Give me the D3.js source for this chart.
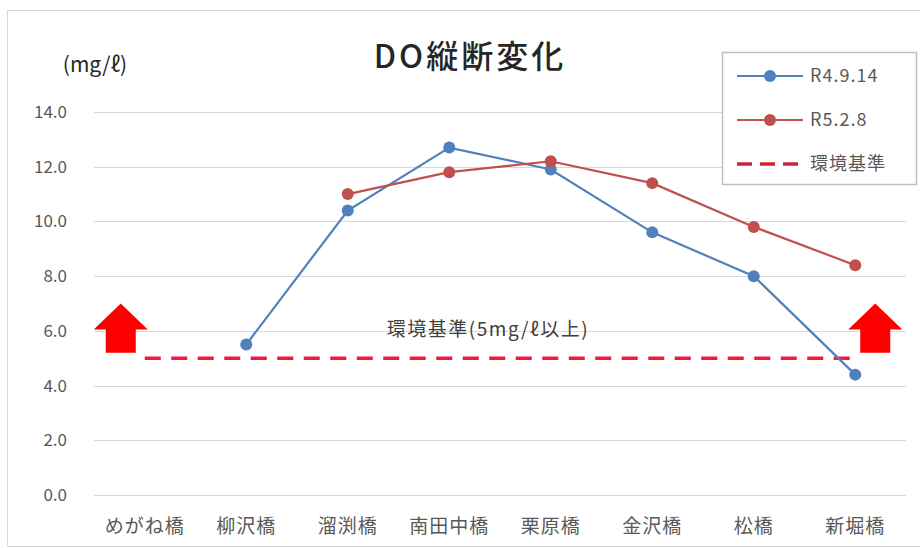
<!DOCTYPE html>
<html>
<head>
<meta charset="utf-8">
<script src="https://cdn.jsdelivr.net/npm/d3@7"></script>
<style>
  html, body { margin: 0; padding: 0; background: #fff; }
  text { font-family: "Noto Sans CJK JP", "Noto Sans", sans-serif; }
</style>
</head>
<body>
<div id="chart"></div>
<script>
// categories (bridges, upstream -> downstream)
const sites = ["めがね橋", "柳沢橋", "溜渕橋", "南田中橋", "栗原橋", "金沢橋", "松橋", "新堀橋"];
// DO values (mg/l), null = not measured
const r4Values = [null, 5.5, 10.4, 12.7, 11.9, 9.6, 8.0, 4.4];
const r5Values = [null, null, 11.0, 11.8, 12.2, 11.4, 9.8, 8.4];
const standardValue = 5.0;
const yTicks = [0, 2, 4, 6, 8, 10, 12, 14];
const seriesNames = ["R4.9.14", "R5.2.8", "環境基準"];

const width = 920;
const height = 548;
const margin = { top: 112, right: 14, bottom: 53, left: 94 };

const blue = "#4f81bd";
const red = "#c0504d";
const stdRed = "#f01a3a";
const textColor = "#595959";

const svg = d3
  .select("#chart")
  .append("svg")
  .attr("width", width)
  .attr("height", height);

// outer chart border
svg
  .append("rect")
  .attr("x", 7.5)
  .attr("y", 10.5)
  .attr("width", width)
  .attr("height", 536)
  .attr("fill", "#fff")
  .attr("stroke", "#d9d9d9");

const x = d3
  .scaleBand()
  .domain(sites)
  .range([margin.left, width - margin.right]);
const cx = (d) => x(d) + x.bandwidth() / 2;

const y = d3
  .scaleLinear()
  .domain([0, 14])
  .range([height - margin.bottom, margin.top]);

// gridlines
svg
  .append("g")
  .selectAll("line")
  .data(yTicks)
  .join("line")
  .attr("x1", margin.left)
  .attr("x2", width - margin.right)
  .attr("y1", (d) => Math.round(y(d)) + 0.5)
  .attr("y2", (d) => Math.round(y(d)) + 0.5)
  .attr("stroke", "#d9d9d9")
  .attr("stroke-width", 1.2);

// y axis labels
const yAxis = d3
  .axisLeft(y)
  .tickValues(yTicks)
  .tickFormat(d3.format(".1f"))
  .tickSize(0)
  .tickPadding(27);
svg
  .append("g")
  .attr("transform", `translate(${margin.left},0)`)
  .call(yAxis)
  .call((g) => g.select(".domain").remove())
  .selectAll("text")
  .attr("fill", textColor)
  .attr("font-size", 17);

// x axis labels
const xAxis = d3.axisBottom(x).tickSize(0).tickPadding(25);
svg
  .append("g")
  .attr("transform", `translate(0,${height - margin.bottom})`)
  .call(xAxis)
  .call((g) => g.select(".domain").remove())
  .selectAll("text")
  .attr("fill", textColor)
  .attr("font-size", 19)
  .attr("letter-spacing", 1);

// title & unit
svg
  .append("text")
  .attr("x", 470)
  .attr("y", 68)
  .attr("text-anchor", "middle")
  .attr("font-size", 32)
  .attr("font-weight", 500)
  .attr("fill", "#262626")
  .attr("letter-spacing", 3)
  .text("DO縦断変化");

svg
  .append("text")
  .attr("x", 95)
  .attr("y", 72)
  .attr("text-anchor", "middle")
  .attr("font-size", 21)
  .attr("fill", "#262626")
  .text("(mg/ℓ)");

// red up arrows at both ends
const arrowPath = (xc) => {
  const hw = 27, sw = 15;
  const yTop = y(7.0), yNeck = y(6.05), yBot = y(5.2);
  return `M${xc},${yTop} L${xc + hw},${yNeck} L${xc + sw},${yNeck} L${xc + sw},${yBot}` +
    ` L${xc - sw},${yBot} L${xc - sw},${yNeck} L${xc - hw},${yNeck} Z`;
};
svg
  .append("g")
  .selectAll("path")
  .data([cx(sites[0]) - 24, cx(sites[sites.length - 1]) + 20])
  .join("path")
  .attr("d", arrowPath)
  .attr("fill", "#ff0000");

// environmental standard line
svg
  .append("line")
  .attr("x1", cx(sites[0]))
  .attr("x2", cx(sites[sites.length - 1]))
  .attr("y1", y(standardValue))
  .attr("y2", y(standardValue))
  .attr("stroke", stdRed)
  .attr("stroke-width", 3.5)
  .attr("stroke-dasharray", "16,10.5");

svg
  .append("text")
  .attr("x", (cx(sites[3]) + cx(sites[4])) / 2 - 12)
  .attr("y", y(5.8))
  .attr("text-anchor", "middle")
  .attr("font-size", 19)
  .attr("letter-spacing", 1.5)
  .attr("fill", "#404040")
  .text("環境基準(5mg/ℓ以上)");

// series lines
const series = [
  { name: seriesNames[0], values: r4Values, color: blue },
  { name: seriesNames[1], values: r5Values, color: red },
];

const line = d3
  .line()
  .defined((d) => d.v !== null)
  .x((d) => cx(d.site))
  .y((d) => y(d.v));

series.forEach((s) => {
  const pts = sites.map((site, i) => ({ site, v: s.values[i] }));
  const g = svg.append("g");
  g.append("path")
    .datum(pts)
    .attr("d", line)
    .attr("fill", "none")
    .attr("stroke", s.color)
    .attr("stroke-width", 2.2);
  g.selectAll("circle")
    .data(pts.filter((d) => d.v !== null))
    .join("circle")
    .attr("cx", (d) => cx(d.site))
    .attr("cy", (d) => y(d.v))
    .attr("r", 6)
    .attr("fill", s.color);
});

// legend
const legend = svg.append("g");
legend
  .append("rect")
  .attr("x", 722.5)
  .attr("y", 52.5)
  .attr("width", 194)
  .attr("height", 132)
  .attr("fill", "#fff")
  .attr("stroke", "#bfbfbf")
  .attr("stroke-width", 1.5);

const legendItems = [
  { name: seriesNames[0], color: blue, marker: true, dash: null, w: 2 },
  { name: seriesNames[1], color: red, marker: true, dash: null, w: 2 },
  { name: seriesNames[2], color: "#d0203a", marker: false, dash: "15,8", w: 3.5 },
];
legendItems.forEach((d, i) => {
  const ly = 76 + i * 44;
  legend
    .append("line")
    .attr("x1", 737)
    .attr("x2", 803)
    .attr("y1", ly)
    .attr("y2", ly)
    .attr("stroke", d.color)
    .attr("stroke-width", d.w)
    .attr("stroke-dasharray", d.dash);
  if (d.marker) {
    legend
      .append("circle")
      .attr("cx", 770)
      .attr("cy", ly)
      .attr("r", 6)
      .attr("fill", d.color);
  }
  legend
    .append("text")
    .attr("x", 810)
    .attr("y", ly)
    .attr("dy", "0.35em")
    .attr("font-size", 18)
    .attr("letter-spacing", 1)
    .attr("fill", textColor)
    .text(d.name);
});
</script>
</body>
</html>
